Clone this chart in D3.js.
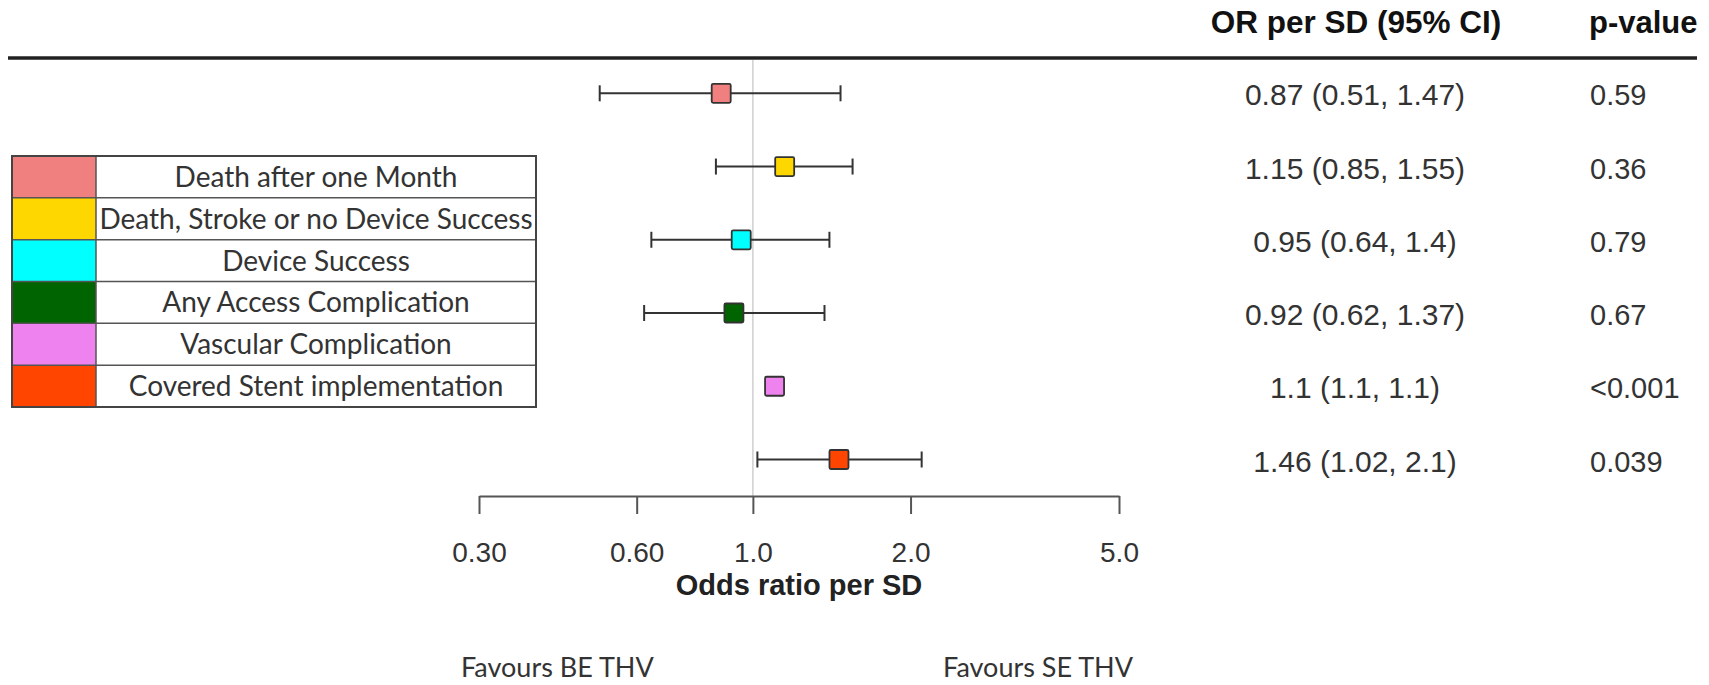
<!DOCTYPE html>
<html>
<head>
<meta charset="utf-8">
<script src="https://cdn.jsdelivr.net/npm/d3@7"></script>
<style>
  html, body { margin: 0; padding: 0; background: #fff; }
  svg { display: block; }
  .num { font-family: "Liberation Sans", Arial, sans-serif; fill: #333; }
  .hum { font-family: Lato, "Open Sans", sans-serif; fill: #333; }
</style>
</head>
<body>
<div id="chart"></div>
<script>
// Forest plot: OR per SD for six outcomes

const outcomes = [
  'Death after one Month',
  'Death, Stroke or no Device Success',
  'Device Success',
  'Any Access Complication',
  'Vascular Complication',
  'Covered Stent implementation'
];
const colors = ['#f08080', '#ffd700', '#00ffff', '#006400', '#ee82ee', '#ff4500'];
const orEst = [0.87, 1.15, 0.95, 0.92, 1.1, 1.46];
const ciLow = [0.51, 0.85, 0.64, 0.62, 1.1, 1.02];
const ciHigh = [1.47, 1.55, 1.4, 1.37, 1.1, 2.1];
const orText = ['0.87 (0.51, 1.47)', '1.15 (0.85, 1.55)', '0.95 (0.64, 1.4)', '0.92 (0.62, 1.37)', '1.1 (1.1, 1.1)', '1.46 (1.02, 2.1)'];
const pText = ['0.59', '0.36', '0.79', '0.67', '<0.001', '0.039'];
const tickValues = [0.3, 0.6, 1.0, 2.0, 5.0];
const tickLabels = ['0.30', '0.60', '1.0', '2.0', '5.0'];

const width = 1709, height = 685;
const svg = d3.select('#chart').append('svg')
  .attr('width', width)
  .attr('height', height);

const rows = d3.range(outcomes.length);

const x = d3.scaleLog().domain([0.3, 5]).range([479, 1119]);
const y = d3.scalePoint().domain(rows).range([93.3, 459.5]);

const axisY = 496;
const ruleY = 58;

// header rule
svg.append('line')
  .attr('x1', 8).attr('x2', 1697)
  .attr('y1', ruleY).attr('y2', ruleY)
  .attr('stroke', '#222').attr('stroke-width', 3.5);

// headers
svg.append('text')
  .attr('class', 'num')
  .attr('x', 1356).attr('y', 33)
  .attr('text-anchor', 'middle')
  .style('font-size', '31.5px').style('font-weight', 'bold').style('fill', '#111')
  .text('OR per SD (95% CI)');
svg.append('text')
  .attr('class', 'num')
  .attr('x', 1589).attr('y', 33)
  .style('font-size', '31px').style('font-weight', 'bold').style('fill', '#111')
  .text('p-value');

// reference line at OR = 1
svg.append('line')
  .attr('x1', x(1)).attr('x2', x(1))
  .attr('y1', ruleY + 2).attr('y2', axisY)
  .attr('stroke', '#cfcfcf').attr('stroke-width', 1.5);

// axis
const xAxis = d3.axisBottom(x)
  .tickValues(tickValues)
  .tickFormat((d, i) => tickLabels[i])
  .tickSize(18)
  .tickSizeOuter(0)
  .tickPadding(28);

const axisG = svg.append('g')
  .attr('transform', `translate(0,${axisY})`)
  .call(xAxis);
axisG.select('.domain').attr('stroke', '#555').attr('stroke-width', 2);
axisG.selectAll('.tick line').attr('stroke', '#555').attr('stroke-width', 2);
axisG.selectAll('.tick text')
  .attr('class', 'num')
  .style('font-size', '28px')
  .attr('fill', '#333');

svg.append('text')
  .attr('class', 'num')
  .attr('x', (x.range()[0] + x.range()[1]) / 2).attr('y', 595)
  .attr('text-anchor', 'middle')
  .style('font-size', '29px').style('font-weight', 'bold').style('fill', '#222')
  .text('Odds ratio per SD');

svg.append('text')
  .attr('class', 'hum')
  .attr('x', 461).attr('y', 677)
  .style('font-size', '27px')
  .text('Favours BE THV');
svg.append('text')
  .attr('class', 'hum')
  .attr('x', 1133).attr('y', 677)
  .attr('text-anchor', 'end')
  .style('font-size', '27px')
  .text('Favours SE THV');

// confidence intervals
const ci = svg.append('g').attr('stroke', '#333').attr('stroke-width', 2);
rows.forEach(i => {
  const yy = y(i);
  ci.append('line').attr('x1', x(ciLow[i])).attr('x2', x(ciHigh[i])).attr('y1', yy).attr('y2', yy);
  ci.append('line').attr('x1', x(ciLow[i])).attr('x2', x(ciLow[i])).attr('y1', yy - 8).attr('y2', yy + 8);
  ci.append('line').attr('x1', x(ciHigh[i])).attr('x2', x(ciHigh[i])).attr('y1', yy - 8).attr('y2', yy + 8);
});

// point estimates
const sq = 19;
svg.append('g')
  .selectAll('rect')
  .data(rows)
  .join('rect')
  .attr('x', i => x(orEst[i]) - sq / 2)
  .attr('y', i => y(i) - sq / 2)
  .attr('width', sq).attr('height', sq)
  .attr('rx', 1.5)
  .attr('fill', i => colors[i])
  .attr('stroke', '#333')
  .attr('stroke-width', 1.8);

// table columns
svg.append('g')
  .selectAll('text')
  .data(rows)
  .join('text')
  .attr('class', 'num')
  .attr('x', 1355)
  .attr('y', i => y(i) + 12)
  .attr('text-anchor', 'middle')
  .style('font-size', '30px')
  .text(i => orText[i]);

svg.append('g')
  .selectAll('text')
  .data(rows)
  .join('text')
  .attr('class', 'num')
  .attr('x', 1590)
  .attr('y', i => y(i) + 12)
  .style('font-size', '29px')
  .text(i => pText[i]);

// legend box
const lgX0 = 12, lgSw = 96, lgX1 = 536;
const ly = d3.scaleBand().domain(outcomes).range([156, 407]);
const legend = svg.append('g');
legend.selectAll('rect.sw')
  .data(outcomes)
  .join('rect')
  .attr('class', 'sw')
  .attr('x', lgX0).attr('y', d => ly(d))
  .attr('width', lgSw - lgX0).attr('height', ly.bandwidth())
  .attr('fill', (d, i) => colors[i]);
legend.selectAll('line.sep')
  .data(outcomes.slice(1))
  .join('line')
  .attr('class', 'sep')
  .attr('x1', lgX0).attr('x2', lgX1)
  .attr('y1', d => ly(d)).attr('y2', d => ly(d))
  .attr('stroke', '#555').attr('stroke-width', 1.5);
legend.append('line')
  .attr('x1', lgSw).attr('x2', lgSw)
  .attr('y1', ly.range()[0]).attr('y2', ly.range()[1])
  .attr('stroke', '#555').attr('stroke-width', 1.5);
legend.append('rect')
  .attr('x', lgX0).attr('y', ly.range()[0])
  .attr('width', lgX1 - lgX0).attr('height', ly.range()[1] - ly.range()[0])
  .attr('fill', 'none')
  .attr('stroke', '#444').attr('stroke-width', 2);
legend.selectAll('text')
  .data(outcomes)
  .join('text')
  .attr('class', 'hum')
  .attr('x', (lgSw + lgX1) / 2)
  .attr('y', d => ly(d) + ly.bandwidth() / 2 + 10)
  .attr('text-anchor', 'middle')
  .style('font-size', '28px')
  .text(d => d);
</script>
</body>
</html>
